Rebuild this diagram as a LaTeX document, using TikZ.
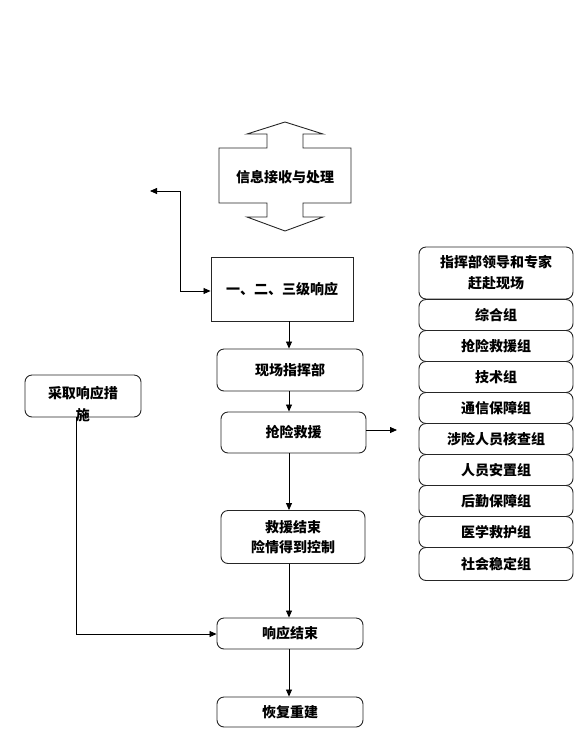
\documentclass[tikz,border=0pt]{standalone}
\usepackage{fontspec}
\setmainfont{Noto Sans CJK SC}
\usetikzlibrary{arrows.meta,calc}
\begin{document}
\begin{tikzpicture}[x=1pt,y=-1pt,
  font=\fontsize{14pt}{16pt}\selectfont\bfseries,
  line width=0.9pt,
  rbox/.style={draw=black!85, rounded corners=7pt, inner sep=0pt, align=center},
  sbox/.style={draw=black!85, inner sep=0pt, align=center},
  arr/.style={-{Triangle[length=7pt,width=6pt]}, line width=0.8pt},
  darr/.style={{Triangle[length=7pt,width=6pt]}-{Triangle[length=7pt,width=6pt]}, line width=0.8pt}]
\useasboundingbox (0,0) rectangle (579,740);
% double arrow
\draw[draw=black!85] (285,122) -- (323,134) -- (303,134) -- (303,148) -- (351,148) -- (351,203)
  -- (303,203) -- (303,217) -- (323,217) -- (285,231) -- (247,217) -- (267,217) -- (267,203)
  -- (219,203) -- (219,148) -- (267,148) -- (267,134) -- (247,134) -- cycle;
\node (info) at (285,177) {信息接收与处理};
% main column
\node[sbox, minimum width=142pt, minimum height=64pt] (l1) at (282,289) {一、二、三级响应};
\node[rbox, minimum width=146pt, minimum height=42pt] (xc) at (290,370) {现场指挥部};
\node[rbox, minimum width=145pt, minimum height=41pt] (qx) at (293.5,432.5) {抢险救援};
\node[rbox, minimum width=144pt, minimum height=53pt, font=\fontsize{14pt}{20pt}\selectfont\bfseries] (js) at (293,537) {救援结束\\险情得到控制};
\node[rbox, minimum width=146pt, minimum height=31pt] (xy) at (290,633.5) {响应结束};
\node[rbox, minimum width=146pt, minimum height=30pt] (hf) at (290,712) {恢复重建};
% left box
\node[rbox, minimum width=116pt, minimum height=42pt] (cq) at (83,396) {};
\node[font=\fontsize{14pt}{22pt}\selectfont\bfseries, align=center, inner sep=0pt] (cqt) at (83,404) {采取响应措\\施};
% right column
\node[rbox, minimum width=154pt, minimum height=52pt, font=\fontsize{14pt}{21pt}\selectfont\bfseries] (r0) at (496,273) {指挥部领导和专家\\赶赴现场};
\node[rbox, minimum width=154pt, minimum height=31pt] (r1) at (496,315) {综合组};
\node[rbox, minimum width=154pt, minimum height=31pt] (r2) at (496,346) {抢险救援组};
\node[rbox, minimum width=154pt, minimum height=31pt] (r3) at (496,377) {技术组};
\node[rbox, minimum width=154pt, minimum height=31pt] (r4) at (496,408) {通信保障组};
\node[rbox, minimum width=154pt, minimum height=31pt] (r5) at (496,439) {涉险人员核查组};
\node[rbox, minimum width=154pt, minimum height=31pt] (r6) at (496,470) {人员安置组};
\node[rbox, minimum width=154pt, minimum height=31pt] (r7) at (496,501) {后勤保障组};
\node[rbox, minimum width=154pt, minimum height=31pt] (r8) at (496,532) {医学救护组};
\node[rbox, minimum width=154pt, minimum height=33pt] (r9) at (496,564) {社会稳定组};
% connectors
\coordinate (lt) at (150,191);
\coordinate (rt) at (397,430);
\draw[darr] (lt) -| (180,291) -- (l1.west |- 0,291);
\draw[arr] (l1.south -| 289,0) -- (xc.north -| 289,0);
\draw[arr] (xc.south -| 289,0) -- (qx.north -| 289,0);
\draw[arr] (qx.east |- rt) -- (rt);
\draw[arr] (qx.south -| 289,0) -- (js.north -| 289,0);
\draw[arr] (js.south -| 289,0) -- (xy.north -| 289,0);
\draw[arr] (xy.south -| 289,0) -- (hf.north -| 289,0);
\draw[arr] (cq.south -| 76,0) |- (xy.west |- 0,634);
\end{tikzpicture}
\end{document}
